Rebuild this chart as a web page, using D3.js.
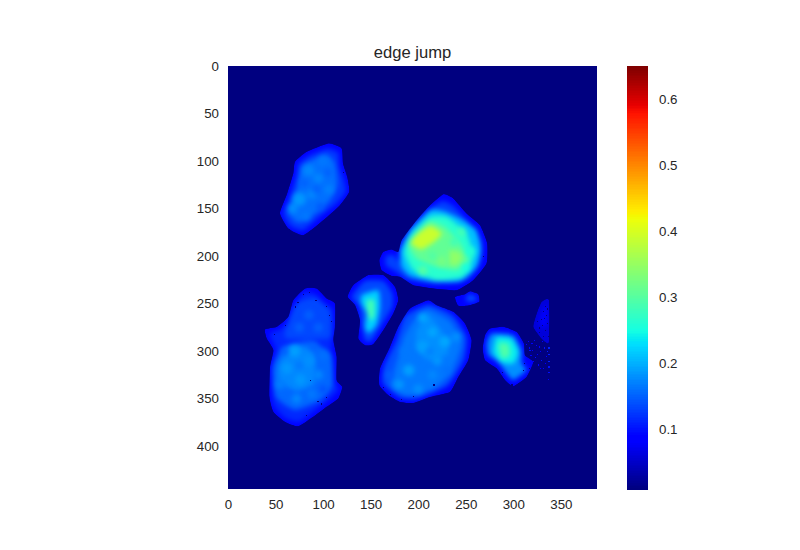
<!DOCTYPE html>
<html>
<head>
<meta charset="utf-8">
<script src="https://cdn.jsdelivr.net/npm/d3@7"></script>
<style>
  body { margin: 0; background: #fff; }
  text { font-family: "Liberation Sans", Arial, sans-serif; fill: #262626; }
</style>
</head>
<body>
<svg id="chart" width="800" height="550"></svg>
<script>
const chartTitle = 'edge jump';
const xTicks = [0, 50, 100, 150, 200, 250, 300, 350];
const yTicks = [0, 50, 100, 150, 200, 250, 300, 350, 400];
const barTicks = [0.1, 0.2, 0.3, 0.4, 0.5, 0.6];
const imageWidth = 388;
const imageHeight = 445;
const valueMin = 0.01;
const valueMax = 0.65;

// each blob: outline plus nested regions of about equal value
const upperLeft = [
  {v: 0.085, pts: [[105.5,81.4],[119.5,86.7],[121,102.5],[125.4,116.5],[127.5,132.3],[117.7,146.4],[100.2,162.2],[79.2,178],[63.4,171],[54.6,155],[61.6,135.8],[68.6,113],[70.4,100.7],[82.7,90.2]]},
  {v: 0.125, pts: [[104,87],[116,91],[117,105],[122,120],[124,132],[114,145],[97,158],[79,173],[65,168],[58,155],[65,137],[72,115],[74,103],[86,94]]},
  {v: 0.16, pts: [[102,93],[112,101],[115,125],[107,142],[91,156],[74,165],[64,154],[73,128],[78,105]]}
];
const centerRight = [
  {v: 0.085, pts: [[226.4,134.8],[236.9,139.4],[250.9,155.2],[264.9,167.4],[272.6,186.7],[271.9,207.8],[257.9,225.4],[240.4,235.9],[215.9,234.1],[194.8,230.6],[180.8,221.8],[172,220.8],[161.5,214.8],[159.1,204.3],[163.3,195.5],[172,193],[179.1,195.5],[182.6,183.2],[198.3,162.2],[212.4,146.4]]},
  {v: 0.13, pts: [[226,142],[238,148],[256,168],[267,185],[265,208],[252,224],[220,229],[190,225],[176,216],[166,210],[166,200],[175,199],[180,205],[188,180],[205,158],[215,148]]},
  {v: 0.21, pts: [[212.4,151.6],[228,153],[247.4,162.2],[261.4,172.7],[266,193.8],[261,212],[243.9,227],[215.9,227],[191.3,221],[182.6,211.3],[180.8,193.8],[191.3,172.7]]},
  {v: 0.265, pts: [[212.4,158.7],[230,158.7],[250.9,176.2],[257.9,200.8],[247.4,221.8],[219.4,225.4],[194.8,214.8],[186,197.3],[191.3,179.7]]},
  {v: 0.31, pts: [[210.6,163.9],[228,169.2],[243.9,186.7],[252.7,204.3],[240.4,214.8],[219.4,211.3],[198.3,202.5],[189.6,186.7]]},
  {v: 0.39, pts: [[213,168],[225,176],[218,184],[203,193],[192,186],[200,176]]},
  {v: 0.345, pts: [[233.4,193.8],[245.7,197.3],[243.9,207.8],[233.4,209.5]]}
];
const lowerLeft = [
  {v: 0.085, pts: [[81,234],[93.2,234],[103.8,244.5],[112.5,249.8],[112.5,274.4],[110.8,288.4],[114.3,306],[114.3,330.5],[120.2,337.6],[116,349.8],[103.8,358.6],[89.7,369.1],[74,379],[60,374.4],[47.7,363.9],[43.5,348],[44.2,316.5],[47.7,299],[40.7,286.7],[38.9,277.2],[51.2,274.4],[63.5,263.8],[68.7,246.3]]},
  {v: 0.115, pts: [[80,238],[92,240],[102,250],[110,256],[110,285],[109,300],[112,332],[116,341],[101,355],[75,374],[60,370],[48,356],[46,320],[50,298],[44,282],[55,277],[67,266],[72,249]]},
  {v: 0.135, pts: [[70.5,251],[91.5,244],[107.3,258],[107.3,286],[60,286]]},
  {v: 0.155, pts: [[47,316.5],[60,295],[88,290],[109,304],[110,336],[97,352],[70.5,362],[50,348]]},
  {v: 0.175, pts: [[67,293.7],[88,299],[92,320],[90,335],[70.5,342],[52.9,330],[54,313]]}
];
const middleSmall = [
  {v: 0.085, pts: [[147.6,220],[163.3,220],[175.6,232.3],[179.1,246.3],[173.9,260.3],[163.3,277.9],[152.8,292.6],[144,293.7],[137,286.7],[138.8,267.4],[133.6,251.6],[125.8,242.8],[131.8,230.5]]},
  {v: 0.135, pts: [[144,226],[163.3,226],[173,239.3],[173,253.3],[160.5,274.4],[151.1,289],[144,289],[140.6,274.4],[138,253.3],[130,242.8]]},
  {v: 0.22, pts: [[140.6,241],[158.1,235.8],[160,253.3],[156.3,272.6],[147.6,281.4],[144,274.4],[145.8,260.3],[139.9,249.8]]},
  {v: 0.285, pts: [[146,246.3],[154,246.3],[154,263.8],[149.3,267.4],[146,256.8]]}
];
const middleLower = [
  {v: 0.085, pts: [[210.6,246.4],[219.4,251.6],[237,258.6],[249.2,270.9],[256.2,288.5],[252.7,309.5],[242.2,327.1],[233.4,342.9],[212.4,348.2],[194.9,354.5],[180.8,353.4],[168.6,346.4],[159.1,335.9],[159.8,318.3],[170.3,295.5],[179.1,274.4],[191.4,255.1]]},
  {v: 0.14, pts: [[210.6,251],[236,262],[251,285],[248,309.5],[231,336],[198.4,350],[180.8,349],[163,334],[164,316],[177,288.5],[186,263]]},
  {v: 0.165, pts: [[210.6,256],[234,269],[246,292],[235,322],[216,340],[187.9,347],[171,336],[178,309.5],[185,285],[197,265]]},
  {v: 0.18, pts: [[210.6,262.2],[226.4,281.5],[231.7,302.5],[212.4,309.5],[198.4,299],[198.4,278]]}
];
const tinyPatch = [
  {v: 0.09, pts: [[238.7,242.9],[249.2,240],[254.5,236.9],[263.2,240],[264.3,248.1],[254.5,251.6],[242.2,252.3]]},
  {v: 0.14, pts: [[250,243],[255,240],[261,243],[261,247],[252,248]]}
];
const rightBlob = [
  {v: 0.085, pts: [[275.5,276.2],[289.5,274.4],[303.5,279.7],[311.2,292],[312.3,304.3],[321,311.3],[314,327.1],[300,336.9],[291.3,330.6],[282.5,318.3],[270.2,309.5],[267.8,297.3],[270.2,283.2]]},
  {v: 0.18, pts: [[277.2,281.5],[300,283.2],[308.8,299],[308.8,313.1],[314,320.1],[300,330.6],[293,323.6],[284.2,311.3],[273.7,304.3],[272,292]]},
  {v: 0.24, pts: [[282.5,285],[298.3,286.7],[305.3,300.8],[300,313.1],[286,311.3],[279,300.8]]},
  {v: 0.295, pts: [[284.2,292],[294.8,292],[296.5,304.3],[287.8,307.8]]}
];
const rightSliver = [
  {v: 0.06, pts: [[329.8,248.1],[337.5,246.4],[337.5,290.2],[333.3,290.2],[328,285],[321,274.4],[324.6,260.4]]},
  {v: 0.085, pts: [[331,255],[336,252],[336,272],[331,276],[327,270]]}
];
const blobs = [upperLeft, centerRight, lowerLeft, middleSmall, middleLower, tinyPatch, rightBlob, rightSliver];

// mottling inside the blobs: [x, y, radius, value]
const mottling = [
  [85,110,6,0.175],[95,118,5,0.175],[75,140,7,0.185],[88,135,5,0.175],[68,150,5,0.18],[100,100,5,0.165],[106,130,5,0.17],[82,158,5,0.165],
  [93,130,4,0.15],[105,112,4,0.15],[80,123,4,0.15],[97,148,4,0.145],
  [70,300,6,0.19],[85,310,6,0.18],[62,318,6,0.185],[76,330,6,0.185],[95,325,5,0.175],[55,335,5,0.17],[88,345,5,0.165],[72,350,5,0.175],[100,305,5,0.16],
  [85,262,5,0.15],[95,275,5,0.15],[75,275,5,0.15],
  [75,315,4,0.165],[90,295,4,0.15],[60,300,4,0.15],[100,340,4,0.14],[65,345,4,0.155],
  [205,265,5,0.195],[215,280,5,0.195],[228,290,6,0.195],[205,295,6,0.19],[190,320,6,0.19],[220,310,5,0.185],[180,335,5,0.185],[240,285,5,0.18],[200,340,5,0.18],[215,325,5,0.175],
  [195,305,4,0.165],[212,300,4,0.17],[230,320,4,0.16],[170,325,4,0.15],[185,300,4,0.165],
  [225,205,5,0.325],[205,215,5,0.3],[255,195,5,0.26],[245,175,5,0.285],[238,185,4,0.28],[215,200,4,0.295],[250,212,4,0.25]
];

// stray pixels: [x, y, value]
const brightSpecks = [
  [316,296,0.09],[320,299,0.09],[324,293,0.08],[328,300,0.09],[332,296,0.1],[318,304,0.09],[323,306,0.1],
  [329,309,0.1],[334,305,0.09],[326,314,0.09],[331,318,0.08],[319,291,0.08],[335,300,0.11],[337,296,0.11],
  [337,310,0.11],[337,322,0.1],[315,289,0.09],[336,329,0.09],[325,303,0.08],[330,289,0.09],[313,292,0.09],
  [322,288,0.08],[327,295,0.09],[333,312,0.09],[321,310,0.09],[328,318,0.08],[317,299,0.1],[337,303,0.11],[337,316,0.1]
];
const darkSpecks = [
  [79,240],[85,238],[73,248],[70,253],[103,252],[92,246],[108,268],[106,262],[60,272],[48,282],[86,330],[103,348],
  [98,355],[82,367],[94,352],[163,338],[170,345],[182,350],[216,335],[194,347],[310,320],[305,334],[298,335],
  [288,322],[316,318],[311,312],[64,172],[121,111],[335,255],[332,265],[327,275],[262,225],[268,200],
  [333,252],[331,258],[334,262],[329,266],[335,270],[330,272],[333,278],[336,284],[331,284],[327,280],[325,268]
];

const margin = {top: 66, left: 228};
const plotWidth = 369;
const plotHeight = 423;
const barX = 627;
const barWidth = 21;

// matplotlib jet, piecewise
function jet(t) {
  const r = d3.scaleLinear().domain([0, 0.35, 0.66, 0.89, 1]).range([0, 0, 1, 1, 0.5]).clamp(true);
  const g = d3.scaleLinear().domain([0, 0.125, 0.375, 0.64, 0.91, 1]).range([0, 0, 1, 1, 0, 0]).clamp(true);
  const b = d3.scaleLinear().domain([0, 0.11, 0.34, 0.65, 1]).range([0.5, 1, 1, 0, 0]).clamp(true);
  return d3.rgb(r(t) * 255, g(t) * 255, b(t) * 255).formatHex();
}

const svg = d3.select('#chart');
const xScale = d3.scaleLinear().domain([0, imageWidth]).range([margin.left, margin.left + plotWidth]);
const yScale = d3.scaleLinear().domain([0, imageHeight]).range([margin.top, margin.top + plotHeight]);
const colorNorm = d3.scaleLinear().domain([valueMin, valueMax]).range([0, 1]);
const color = v => jet(colorNorm(v));
const barScale = d3.scaleLinear().domain([valueMin, valueMax]).range([margin.top + plotHeight, margin.top]);

const defs = svg.append('defs');
function addBlur(id, amount) {
  defs.append('filter').attr('id', id)
    .attr('filterUnits', 'userSpaceOnUse')
    .attr('x', 0).attr('y', 0).attr('width', 800).attr('height', 550)
    .attr('color-interpolation-filters', 'sRGB')
    .append('feGaussianBlur').attr('stdDeviation', amount);
}
addBlur('soft', 2.5);
addBlur('softer', 2.4);

const polyLine = d3.line().x(d => xScale(d[0])).y(d => yScale(d[1])).curve(d3.curveCardinalClosed.tension(0.5));

defs.append('clipPath').attr('id', 'plot-clip').append('rect')
  .attr('x', margin.left).attr('y', margin.top).attr('width', plotWidth).attr('height', plotHeight);

const image = svg.append('g').attr('clip-path', 'url(#plot-clip)');
image.append('rect')
  .attr('x', margin.left).attr('y', margin.top).attr('width', plotWidth).attr('height', plotHeight)
  .attr('fill', color(valueMin));

blobs.forEach((layers, i) => {
  defs.append('clipPath').attr('id', `blob-${i}`).append('path').attr('d', polyLine(layers[0].pts));
  const g = image.append('g').attr('clip-path', `url(#blob-${i})`);
  g.append('path').attr('d', polyLine(layers[0].pts)).attr('fill', color(layers[0].v));
  g.append('g').attr('filter', 'url(#soft)')
    .selectAll('path').data(layers.slice(1)).join('path')
    .attr('d', d => polyLine(d.pts))
    .attr('fill', d => color(d.v));
});

image.append('g').attr('filter', 'url(#softer)')
  .selectAll('circle').data(mottling).join('circle')
  .attr('cx', d => xScale(d[0])).attr('cy', d => yScale(d[1]))
  .attr('r', d => xScale(d[2]) - xScale(0))
  .attr('fill', d => color(d[3]));

image.selectAll('.bright').data(brightSpecks).join('rect')
  .attr('class', 'bright')
  .attr('x', d => xScale(d[0])).attr('y', d => yScale(d[1]))
  .attr('width', xScale(1.2) - xScale(0)).attr('height', yScale(1.2) - yScale(0))
  .attr('shape-rendering', 'crispEdges')
  .attr('fill', d => color(d[2]));
image.selectAll('.dark').data(darkSpecks).join('rect')
  .attr('class', 'dark')
  .attr('x', d => xScale(d[0])).attr('y', d => yScale(d[1]))
  .attr('width', xScale(1.2) - xScale(0)).attr('height', yScale(1.2) - yScale(0))
  .attr('shape-rendering', 'crispEdges')
  .attr('fill', color(valueMin));

// axes: seaborn style, labels only
const xAxis = svg.append('g')
  .attr('transform', `translate(0, ${margin.top + plotHeight})`)
  .call(d3.axisBottom(xScale).tickValues(xTicks).tickSize(0).tickPadding(11).tickFormat(d3.format('d')));
const yAxis = svg.append('g')
  .attr('transform', `translate(${margin.left}, 0)`)
  .call(d3.axisLeft(yScale).tickValues(yTicks).tickSize(0).tickPadding(9).tickFormat(d3.format('d')));
[xAxis, yAxis].forEach(a => {
  a.select('.domain').remove();
  a.selectAll('text').attr('font-size', 13.3);
});

svg.append('text')
  .attr('x', margin.left + plotWidth / 2)
  .attr('y', 58)
  .attr('text-anchor', 'middle')
  .attr('font-size', 16.6)
  .text(chartTitle);

// colorbar
const barSteps = d3.range(256);
const stepScale = d3.scaleLinear().domain([0, 256]).range([valueMin, valueMax]);
svg.append('g').selectAll('rect').data(barSteps).join('rect')
  .attr('x', barX)
  .attr('width', barWidth)
  .attr('y', d => barScale(stepScale(d + 1)))
  .attr('height', d => barScale(stepScale(d)) - barScale(stepScale(d + 1)) + 0.5)
  .attr('shape-rendering', 'crispEdges')
  .attr('fill', d => jet(d / 255));

const barAxis = svg.append('g')
  .attr('transform', `translate(${barX + barWidth}, 0)`)
  .call(d3.axisRight(barScale).tickValues(barTicks).tickSize(0).tickPadding(11).tickFormat(d3.format('.1f')));
barAxis.select('.domain').remove();
barAxis.selectAll('text').attr('font-size', 13.3);
</script>
</body>
</html>
